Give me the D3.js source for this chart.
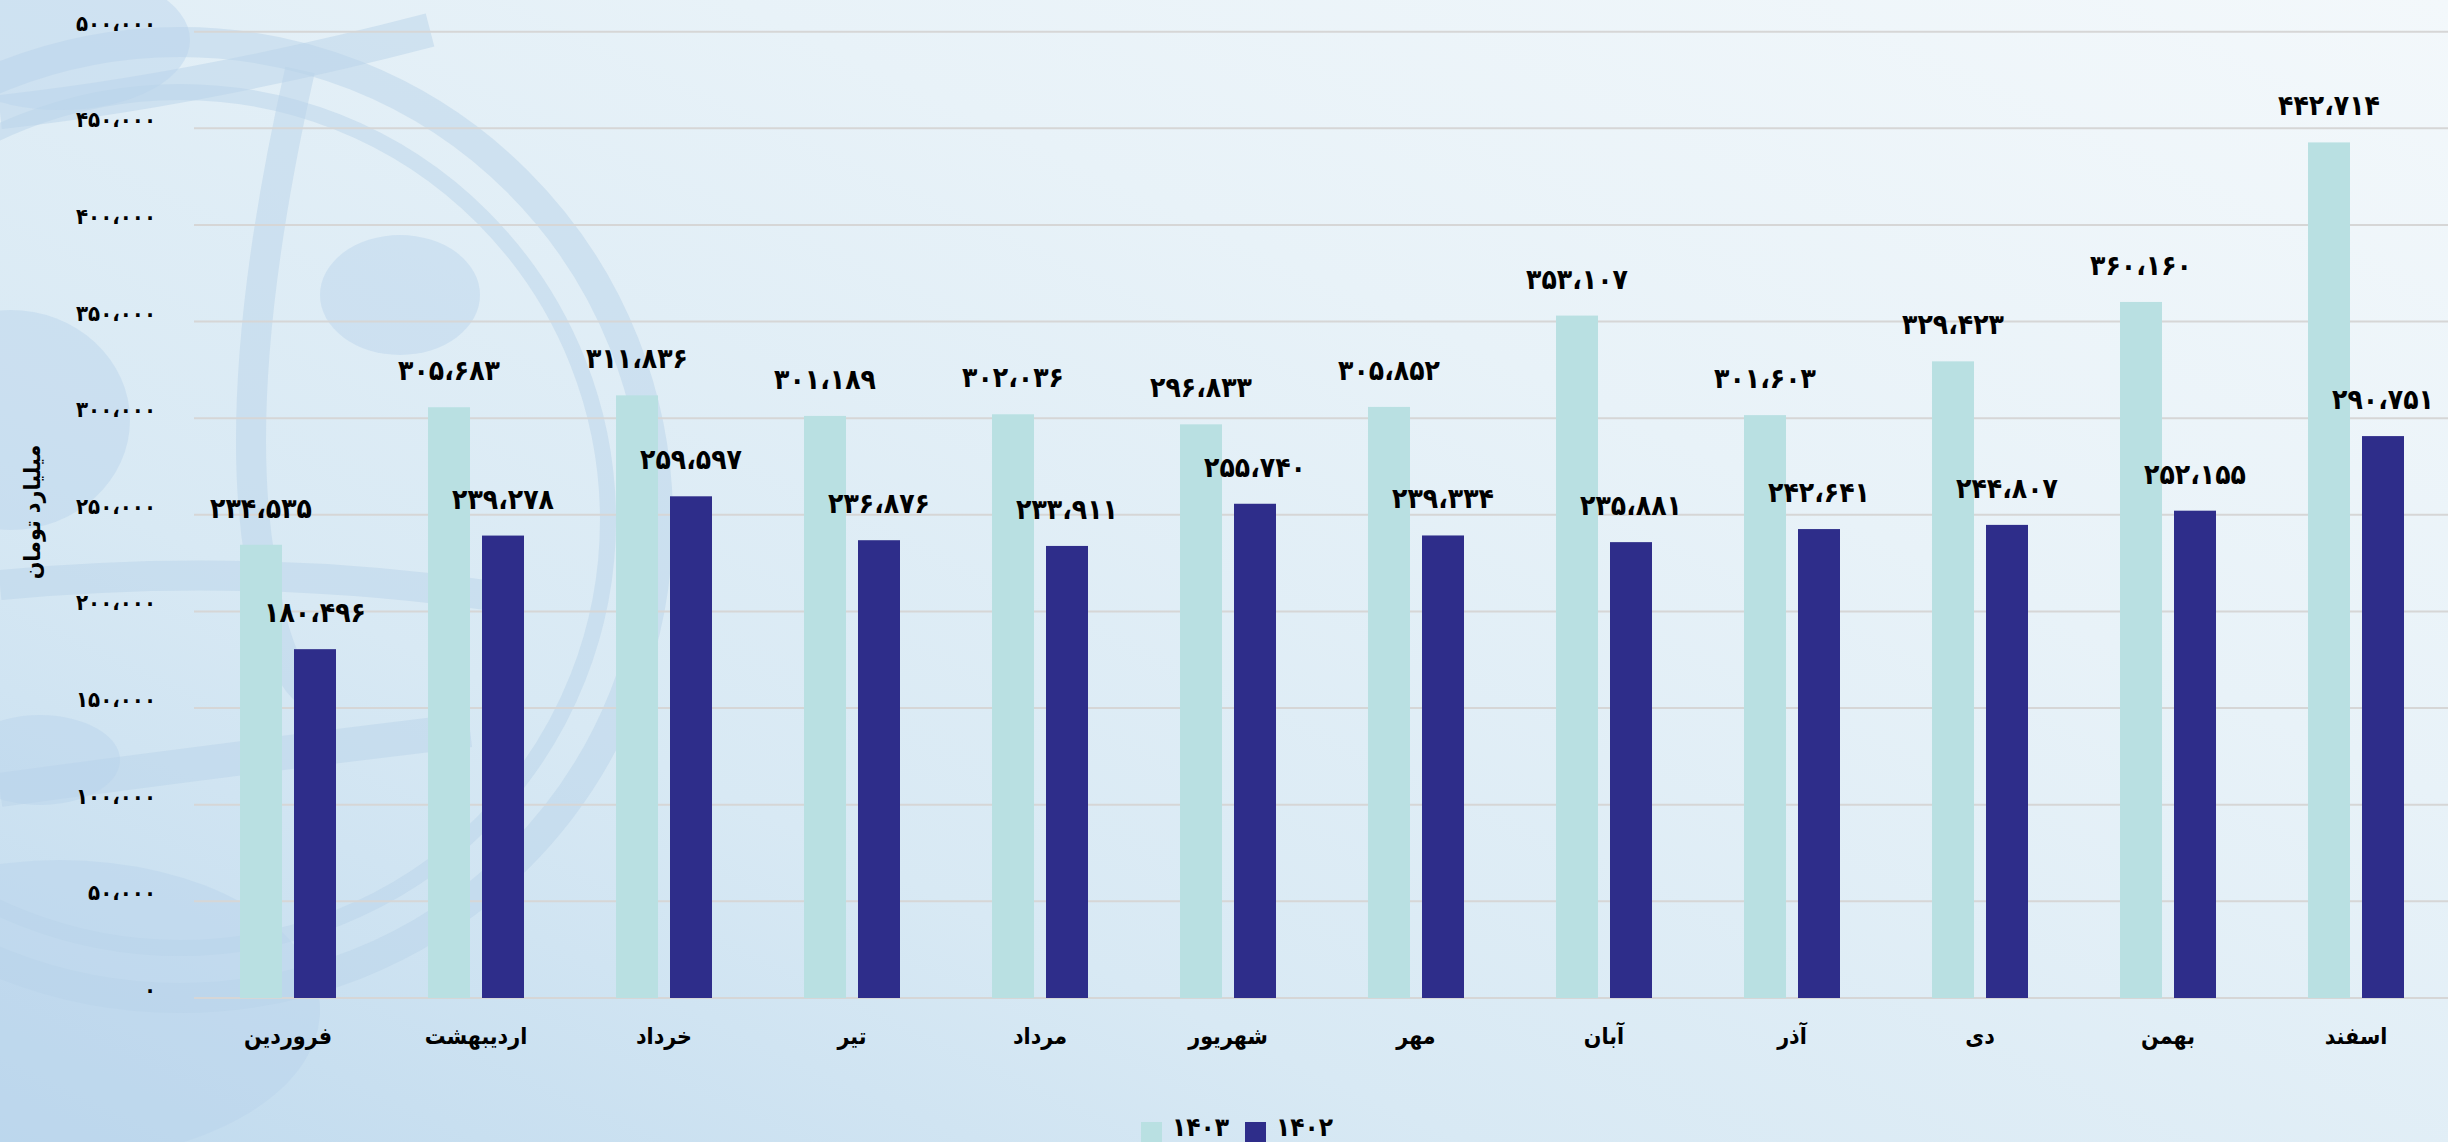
<!DOCTYPE html>
<html>
<head>
<meta charset="utf-8">
<script src="https://cdn.jsdelivr.net/npm/d3@7"></script>
<style>
  html, body { margin: 0; padding: 0; background: #e3eef6; }
  svg { display: block; }
  text { font-family: "DejaVu Sans Condensed", "DejaVu Sans", sans-serif; font-weight: bold; fill: #000; }
</style>
</head>
<body>
<svg id="chart" width="2448" height="1142"></svg>
<script>
const months = ["فروردین", "اردیبهشت", "خرداد", "تیر", "مرداد", "شهریور", "مهر", "آبان", "آذر", "دی", "بهمن", "اسفند"];
const seriesNames = ["1403", "1402"];
const values1403 = [234535, 305683, 311836, 301189, 302036, 296833, 305852, 353107, 301603, 329423, 360160, 442714];
const values1402 = [180496, 239278, 259597, 236876, 233911, 255740, 239334, 235881, 242641, 244807, 252155, 290751];
const yTicks = [0, 50000, 100000, 150000, 200000, 250000, 300000, 350000, 400000, 450000, 500000];
const yTitle = "میلیارد تومان";
const colors = {"1403": "#b9e0e2", "1402": "#2e2d8a"};

const W = 2448, H = 1142;
const svg = d3.select("#chart");

const faDigits = "۰۱۲۳۴۵۶۷۸۹";
const fa = s => String(s).replace(/[0-9]/g, d => faDigits[+d]).replace(/,/g, "،");
const fmt = v => fa(d3.format(",")(v));

// background
const defs = svg.append("defs");
const g1 = defs.append("linearGradient").attr("id", "bg").attr("x1", "0").attr("y1", "1").attr("x2", "1").attr("y2", "0");
g1.append("stop").attr("offset", "0%").attr("stop-color", "#c0daee");
g1.append("stop").attr("offset", "30%").attr("stop-color", "#d8e9f4");
g1.append("stop").attr("offset", "65%").attr("stop-color", "#e8f2f8");
g1.append("stop").attr("offset", "100%").attr("stop-color", "#f3f8fb");
svg.append("rect").attr("width", W).attr("height", H).attr("fill", "url(#bg)");

// faint watermark emblem (decorative)
const wmc = "#b9d3ea";
const wm = svg.append("g").attr("fill", "none").attr("stroke", wmc).attr("stroke-opacity", 0.5);
wm.append("circle").attr("cx", 180).attr("cy", 520).attr("r", 478).attr("stroke-width", 30);
wm.append("circle").attr("cx", 180).attr("cy", 520).attr("r", 428).attr("stroke-width", 16);
wm.append("path").attr("d", "M300,70 Q230,380 260,560 Q280,700 330,700").attr("stroke-width", 30);
wm.append("path").attr("d", "M0,112 Q200,90 430,30").attr("stroke-width", 34);
wm.append("path").attr("d", "M0,585 Q260,560 520,600").attr("stroke-width", 30);
wm.append("path").attr("d", "M0,790 Q220,760 470,730").attr("stroke-width", 34);
const wf = svg.append("g").attr("fill", wmc).attr("fill-opacity", 0.45);
wf.append("ellipse").attr("cx", 60).attr("cy", 40).attr("rx", 130).attr("ry", 70);
wf.append("ellipse").attr("cx", 400).attr("cy", 295).attr("rx", 80).attr("ry", 60);
wf.append("ellipse").attr("cx", 10).attr("cy", 420).attr("rx", 120).attr("ry", 110);
wf.append("ellipse").attr("cx", 60).attr("cy", 1010).attr("rx", 260).attr("ry", 150);
wf.append("ellipse").attr("cx", 40).attr("cy", 760).attr("rx", 80).attr("ry", 45);

// scales
const y = d3.scaleLinear().domain([0, 500000]).range([998, 31.7]);
const x0 = d3.scaleBand().domain(months).range([194, 2450]).padding(0);
const groupW = 96;
const x1 = d3.scaleBand().domain(seriesNames).range([0, groupW]).paddingInner(12 / 54);
const groupOff = (x0.bandwidth() - groupW) / 2;

// gridlines
svg.append("g").selectAll("line").data(yTicks).join("line")
  .attr("x1", 194).attr("x2", W)
  .attr("y1", d => y(d)).attr("y2", d => y(d))
  .attr("stroke", "#d6d6d6").attr("stroke-width", 2);

// y tick labels
svg.append("g").selectAll("text").data(yTicks).join("text")
  .attr("x", 156).attr("y", d => y(d) - 1)
  .attr("text-anchor", "end")
  .style("font-size", "22px")
  .text(d => fmt(d));

// y title
svg.append("text")
  .attr("transform", "translate(40,512) rotate(-90)")
  .attr("text-anchor", "middle")
  .style("font-size", "23px")
  .text(yTitle);

// bars
const rows = months.map((m, i) => ({month: m, vals: [{s: "1403", v: values1403[i]}, {s: "1402", v: values1402[i]}]}));
const groups = svg.append("g").selectAll("g").data(rows).join("g")
  .attr("transform", d => `translate(${x0(d.month) + groupOff},0)`);
groups.selectAll("rect").data(d => d.vals).join("rect")
  .attr("x", d => x1(d.s)).attr("width", x1.bandwidth())
  .attr("y", d => y(d.v)).attr("height", d => y(0) - y(d.v))
  .attr("fill", d => colors[d.s]);
groups.selectAll("text").data(d => d.vals).join("text")
  .attr("x", d => x1(d.s) + x1.bandwidth() / 2)
  .attr("y", d => y(d.v) - 27)
  .attr("text-anchor", "middle")
  .style("font-size", "28px")
  .text(d => fmt(d.v));

// x labels
svg.append("g").selectAll("text").data(months).join("text")
  .attr("x", d => x0(d) + x0.bandwidth() / 2)
  .attr("y", 1044)
  .attr("text-anchor", "middle")
  .attr("direction", "rtl")
  .style("font-size", "23px")
  .text(d => d);

// legend
const legend = [{s: "1403", x: 1141}, {s: "1402", x: 1245}];
const lg = svg.append("g").selectAll("g").data(legend).join("g");
lg.append("rect").attr("x", d => d.x).attr("y", 1122).attr("width", 21).attr("height", 21).attr("fill", d => colors[d.s]);
lg.append("text").attr("x", d => d.x + 31).attr("y", 1136).style("font-size", "26px").text(d => fa(d.s));
</script>
</body>
</html>
